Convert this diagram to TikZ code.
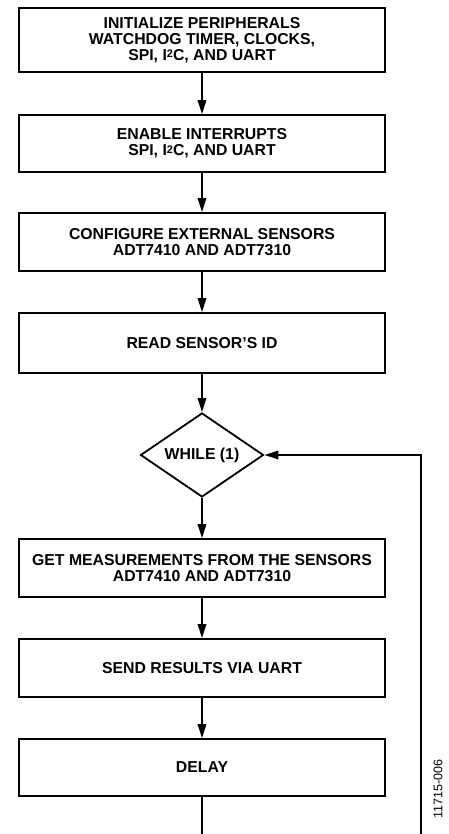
\documentclass[tikz,border=0pt]{standalone}
\usepackage{fontspec}
\setmainfont{Liberation Sans}
\usetikzlibrary{shapes.geometric,arrows.meta}
\newcommand{\sqtwo}{\raisebox{0.3ex}{\fontsize{11}{11}\selectfont 2}}
\tikzset{
BOX/.style ={draw=black,line width=1.8pt,minimum width=366pt,align=center,inner sep=0pt,
  font=\bfseries\fontsize{15.8}{16.2}\selectfont},
DECISION/.style={draw=black,line width=1.8pt,diamond,minimum width=123pt,minimum height=84pt,inner sep=0pt,aspect=1.46,
  font=\bfseries\fontsize{15.8}{16.2}\selectfont},
FLOW/.style={draw=black,line width=1.5pt,-{Triangle[length=14pt,width=8.5pt]}},
}

\begin{document}
\begin{tikzpicture}[x=1pt,y=-1pt]
	\useasboundingbox (0,0) rectangle (449,834);
	\clip (0,0) rectangle (449,834);
	\node[BOX,minimum height=64pt] (init) at (202,40) {INITIALIZE PERIPHERALS\\WATCHDOG TIMER, CLOCKS,\\SPI, I\sqtwo C, AND UART};
	\node[BOX,minimum height=57pt] (enable) at (202,143.5) {ENABLE INTERRUPTS\\SPI, I\sqtwo C, AND UART};
	\node[BOX,minimum height=58pt] (config) at (202,242) {CONFIGURE EXTERNAL SENSORS\\ADT7410 AND ADT7310};
	\node[BOX,minimum height=60pt] (readid) at (202,343) {READ SENSOR'S ID};
	\node[DECISION] (while) at (202,455) {WHILE (1)};
	\node[BOX,minimum height=58pt] (getmeas) at (202,568) {GET MEASUREMENTS FROM THE SENSORS\\ADT7410 AND ADT7310};
	\node[BOX,minimum height=58pt] (send) at (202,668) {SEND RESULTS VIA UART};
	\node[BOX,minimum height=57pt] (delay) at (202,767.5) {DELAY};
	\draw[FLOW] (init) -- (enable);
	\draw[FLOW] (enable) -- (config);
	\draw[FLOW] (config) -- (readid);
	\draw[FLOW] (readid) -- (while);
	\draw[FLOW] (while) -- (getmeas);
	\draw[FLOW] (getmeas) -- (send);
	\draw[FLOW] (send) -- (delay);
	%loop back
	\coordinate (loopbot) at (421,850);
	\draw[FLOW] (delay.south) |- (loopbot) |- (while.east);
	\node[rotate=90,font=\fontsize{12.5}{13}\selectfont] (figid) at (438,789) {11715-006};
\end{tikzpicture}
\end{document}
